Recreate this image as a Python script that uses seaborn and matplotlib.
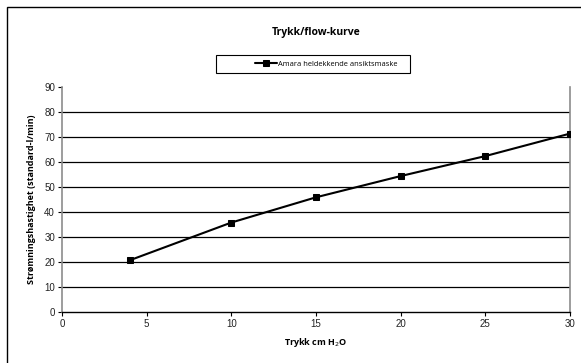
import matplotlib
matplotlib.use("Agg")
import matplotlib.pyplot as plt
import seaborn as sns
import pandas as pd
from matplotlib.patches import Rectangle

pressure = [4, 10, 15, 20, 25, 30]
flow = [20.7, 35.8, 45.9, 54.4, 62.4, 71.4]
series_name = "Amara heldekkende ansiktsmaske"
x_ticks = [0, 5, 10, 15, 20, 25, 30]
y_ticks = [0, 10, 20, 30, 40, 50, 60, 70, 80, 90]

sns.set_theme(style="white")
plt.rcParams['font.family'] = ['Liberation Sans', 'DejaVu Sans']
plt.rcParams['text.color'] = 'black'
plt.rcParams['axes.labelcolor'] = 'black'
plt.rcParams['xtick.color'] = 'black'
plt.rcParams['ytick.color'] = 'black'

df = pd.DataFrame({"x": pressure, "y": flow, "s": series_name})

W, H = 581, 363
fig = plt.figure(figsize=(5.81, 3.63), dpi=100)
ax = fig.add_axes([0.1067, 0.1405, 0.8743, 0.6195])

for t in y_ticks[1:-1]:
    ax.axhline(t, color="black", lw=0.9, zorder=1)

sns.lineplot(data=df, x="x", y="y", hue="s", palette=["black"], marker="s",
             markersize=5, markeredgecolor="black", linewidth=1.5, ax=ax, zorder=3)

ax.set_xlim(0, 30)
ax.set_ylim(0, 90)
ax.set_xticks(x_ticks)
ax.set_yticks(y_ticks)
ax.tick_params(axis="both", labelsize=7, length=3, width=0.8, color="black", pad=2,
               direction="out", bottom=True, left=True, labelcolor="#222222")
for s in ["left", "right", "top"]:
    ax.spines[s].set_color("#8c8c8c")
    ax.spines[s].set_linewidth(1.2)
ax.spines["top"].set_visible(False)
ax.spines["bottom"].set_color("black")
ax.spines["bottom"].set_linewidth(1.0)

ax.set_xlabel("Trykk cm H$_{2}$O", fontsize=6.5, fontweight="bold", family="Open Sans", labelpad=5)
ax.set_ylabel("Strømningshastighet (standard-l/min)", fontsize=6.5, fontweight="bold",
              family="Open Sans", labelpad=6)

fig.text(0.544, 1 - 33 / H, "Trykk/flow-kurve", ha="center", va="center", fontsize=7.5,
         fontweight="bold", family="Open Sans")

leg = ax.legend(loc="center left", bbox_to_anchor=(255 / W, 1 - 64 / H),
                bbox_transform=fig.transFigure, frameon=False,
                prop={"family": "Open Sans", "size": 5.4},
                handlelength=2.9, handletextpad=0.1, borderpad=0, borderaxespad=0)
leg.set_title(None)

fig.patches.append(Rectangle((216 / W, 1 - 73 / H), (410 - 216) / W, 18 / H,
                             transform=fig.transFigure, fill=False,
                             edgecolor="black", linewidth=0.8))

fig.patches.append(Rectangle((7 / W, -0.05), 1.2, 1 - 7 / H + 0.05, transform=fig.transFigure,
                             fill=False, edgecolor="black", linewidth=1.0))

fig.savefig("out.png", dpi=100)
